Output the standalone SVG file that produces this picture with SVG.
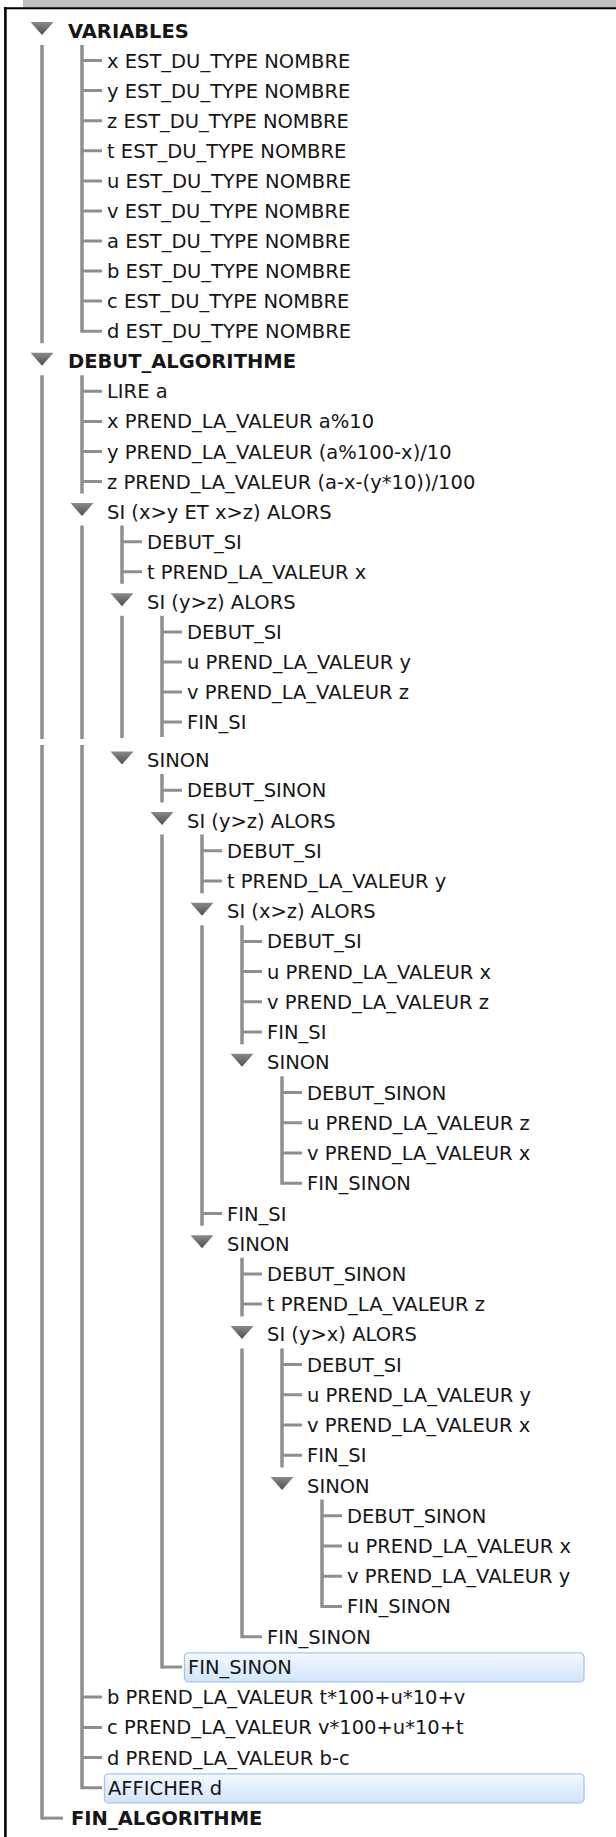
<svg xmlns="http://www.w3.org/2000/svg" width="616" height="1837" viewBox="0 0 616 1837">
<defs>
<linearGradient id="tri" x1="0" y1="0" x2="0" y2="1"><stop offset="0" stop-color="#8a8a8a"/><stop offset="1" stop-color="#4e4e4e"/></linearGradient>
<linearGradient id="sel" x1="0" y1="0" x2="0" y2="1"><stop offset="0" stop-color="#f4f9ff"/><stop offset="1" stop-color="#d2e4fb"/></linearGradient>
<path id="arrow" d="M-11.5 -8.5 L11.5 -8.5 L0 4.5 Z"/>
</defs>
<style>
.t{font-family:"DejaVu Sans",Verdana,sans-serif;font-size:19.5px;fill:#161616}
.b{font-weight:bold}
.ln{stroke:#8e8e8e;stroke-width:3.5;fill:none}
.tk{stroke:#8e8e8e;stroke-width:3;fill:none}
.ar{fill:url(#tri)}
.hl{fill:url(#sel);stroke:#a4c6ee;stroke-width:1.3}
</style>
<rect width="616" height="1837" fill="#ffffff"/>
<g id="frame">
<rect x="23" y="0" width="593" height="7.5" fill="#c0c0c0"/>
<line x1="4" y1="8.3" x2="616" y2="8.3" stroke="#000" stroke-width="2"/>
<line x1="5.4" y1="7.3" x2="5.4" y2="1837" stroke="#000" stroke-width="2.6"/>
</g>
<g id="connectors">
<path class="ln" d="M42 45V343.3M42 375.3V739M42 745V1819.6"/>
<path class="ln" d="M82 45V332.7"/>
<path class="ln" d="M82 375.3V493.6M82 525.6V739M82 745V1789.3"/>
<path class="ln" d="M122 525.6V583.8M122 615.8V738"/>
<path class="ln" d="M162 615.8V737"/>
<path class="ln" d="M162 774V802.5M162 834.5V1668.4"/>
<path class="ln" d="M202 834.5V893.2M202 925.2V1225.7"/>
<path class="ln" d="M242 925.2V1044.3"/>
<path class="ln" d="M282 1076.3V1184.7"/>
<path class="ln" d="M242 1257.7V1316.4M242 1348.4V1638.2"/>
<path class="ln" d="M282 1348.4V1467.5"/>
<path class="ln" d="M322 1499.5V1607.9"/>
<path class="tk" d="M42 1818.1h21"/>
<path class="tk" d="M82 60.6h20M82 90.6h20M82 120.7h20M82 150.8h20M82 180.9h20M82 210.9h20M82 241h20M82 271.1h20M82 301.1h20M82 331.2h20"/>
<path class="tk" d="M82 391.3h20M82 421.4h20M82 451.5h20M82 481.6h20M82 1697.1h20M82 1727.4h20M82 1757.6h20M82 1787.8h20"/>
<path class="tk" d="M122 541.7h20M122 571.8h20"/>
<path class="tk" d="M162 631.9h20M162 662h20M162 692.1h20M162 722.1h20M162 790.2h20M162 1666.9h20"/>
<path class="tk" d="M202 850.7h20M202 880.9h20M202 1213.5h20"/>
<path class="tk" d="M242 941.4h20M242 971.6h20M242 1001.8h20M242 1032.1h20M242 1273.9h20M242 1304.1h20M242 1636.7h20"/>
<path class="tk" d="M282 1092.5h20M282 1122.8h20M282 1153h20M282 1183.2h20M282 1364.6h20M282 1394.8h20M282 1425.1h20M282 1455.3h20"/>
<path class="tk" d="M322 1515.8h20M322 1546h20M322 1576.2h20M322 1606.4h20"/>
</g>
<g id="n1"><use href="#arrow" class="ar" x="42" y="30.5"/><text class="t b" x="68" y="37.5">VARIABLES</text></g>
<g id="n2"><text class="t" x="107" y="67.6">x EST_DU_TYPE NOMBRE</text></g>
<g id="n3"><text class="t" x="107" y="97.6">y EST_DU_TYPE NOMBRE</text></g>
<g id="n4"><text class="t" x="107" y="127.7">z EST_DU_TYPE NOMBRE</text></g>
<g id="n5"><text class="t" x="107" y="157.8">t EST_DU_TYPE NOMBRE</text></g>
<g id="n6"><text class="t" x="107" y="187.9">u EST_DU_TYPE NOMBRE</text></g>
<g id="n7"><text class="t" x="107" y="217.9">v EST_DU_TYPE NOMBRE</text></g>
<g id="n8"><text class="t" x="107" y="248">a EST_DU_TYPE NOMBRE</text></g>
<g id="n9"><text class="t" x="107" y="278.1">b EST_DU_TYPE NOMBRE</text></g>
<g id="n10"><text class="t" x="107" y="308.1">c EST_DU_TYPE NOMBRE</text></g>
<g id="n11"><text class="t" x="107" y="338.2">d EST_DU_TYPE NOMBRE</text></g>
<g id="n12"><use href="#arrow" class="ar" x="42" y="361.3"/><text class="t b" x="68" y="368.3">DEBUT_ALGORITHME</text></g>
<g id="n13"><text class="t" x="107" y="398.3">LIRE a</text></g>
<g id="n14"><text class="t" x="107" y="428.4">x PREND_LA_VALEUR a%10</text></g>
<g id="n15"><text class="t" x="107" y="458.5">y PREND_LA_VALEUR (a%100-x)/10</text></g>
<g id="n16"><text class="t" x="107" y="488.6">z PREND_LA_VALEUR (a-x-(y*10))/100</text></g>
<g id="n17"><use href="#arrow" class="ar" x="82" y="511.6"/><text class="t" x="107" y="518.6">SI (x&gt;y ET x&gt;z) ALORS</text></g>
<g id="n18"><text class="t" x="147" y="548.7">DEBUT_SI</text></g>
<g id="n19"><text class="t" x="147" y="578.8">t PREND_LA_VALEUR x</text></g>
<g id="n20"><use href="#arrow" class="ar" x="122" y="601.8"/><text class="t" x="147" y="608.8">SI (y&gt;z) ALORS</text></g>
<g id="n21"><text class="t" x="187" y="638.9">DEBUT_SI</text></g>
<g id="n22"><text class="t" x="187" y="669">u PREND_LA_VALEUR y</text></g>
<g id="n23"><text class="t" x="187" y="699.1">v PREND_LA_VALEUR z</text></g>
<g id="n24"><text class="t" x="187" y="729.1">FIN_SI</text></g>
<g id="n25"><use href="#arrow" class="ar" x="122" y="760"/><text class="t" x="147" y="767">SINON</text></g>
<g id="n26"><text class="t" x="187" y="797.2">DEBUT_SINON</text></g>
<g id="n27"><use href="#arrow" class="ar" x="162" y="820.5"/><text class="t" x="187" y="827.5">SI (y&gt;z) ALORS</text></g>
<g id="n28"><text class="t" x="227" y="857.7">DEBUT_SI</text></g>
<g id="n29"><text class="t" x="227" y="887.9">t PREND_LA_VALEUR y</text></g>
<g id="n30"><use href="#arrow" class="ar" x="202" y="911.2"/><text class="t" x="227" y="918.2">SI (x&gt;z) ALORS</text></g>
<g id="n31"><text class="t" x="267" y="948.4">DEBUT_SI</text></g>
<g id="n32"><text class="t" x="267" y="978.6">u PREND_LA_VALEUR x</text></g>
<g id="n33"><text class="t" x="267" y="1008.8">v PREND_LA_VALEUR z</text></g>
<g id="n34"><text class="t" x="267" y="1039.1">FIN_SI</text></g>
<g id="n35"><use href="#arrow" class="ar" x="242" y="1062.3"/><text class="t" x="267" y="1069.3">SINON</text></g>
<g id="n36"><text class="t" x="307" y="1099.5">DEBUT_SINON</text></g>
<g id="n37"><text class="t" x="307" y="1129.8">u PREND_LA_VALEUR z</text></g>
<g id="n38"><text class="t" x="307" y="1160">v PREND_LA_VALEUR x</text></g>
<g id="n39"><text class="t" x="307" y="1190.2">FIN_SINON</text></g>
<g id="n40"><text class="t" x="227" y="1220.5">FIN_SI</text></g>
<g id="n41"><use href="#arrow" class="ar" x="202" y="1243.7"/><text class="t" x="227" y="1250.7">SINON</text></g>
<g id="n42"><text class="t" x="267" y="1280.9">DEBUT_SINON</text></g>
<g id="n43"><text class="t" x="267" y="1311.1">t PREND_LA_VALEUR z</text></g>
<g id="n44"><use href="#arrow" class="ar" x="242" y="1334.4"/><text class="t" x="267" y="1341.4">SI (y&gt;x) ALORS</text></g>
<g id="n45"><text class="t" x="307" y="1371.6">DEBUT_SI</text></g>
<g id="n46"><text class="t" x="307" y="1401.8">u PREND_LA_VALEUR y</text></g>
<g id="n47"><text class="t" x="307" y="1432.1">v PREND_LA_VALEUR x</text></g>
<g id="n48"><text class="t" x="307" y="1462.3">FIN_SI</text></g>
<g id="n49"><use href="#arrow" class="ar" x="282" y="1485.5"/><text class="t" x="307" y="1492.5">SINON</text></g>
<g id="n50"><text class="t" x="347" y="1522.8">DEBUT_SINON</text></g>
<g id="n51"><text class="t" x="347" y="1553">u PREND_LA_VALEUR x</text></g>
<g id="n52"><text class="t" x="347" y="1583.2">v PREND_LA_VALEUR y</text></g>
<g id="n53"><text class="t" x="347" y="1613.4">FIN_SINON</text></g>
<g id="n54"><text class="t" x="267" y="1643.7">FIN_SINON</text></g>
<g id="n55"><rect class="hl" x="184.5" y="1652.9" width="399.5" height="29" rx="4"/><text class="t" x="188" y="1673.9">FIN_SINON</text></g>
<g id="n56"><text class="t" x="107" y="1704.1">b PREND_LA_VALEUR t*100+u*10+v</text></g>
<g id="n57"><text class="t" x="107" y="1734.4">c PREND_LA_VALEUR v*100+u*10+t</text></g>
<g id="n58"><text class="t" x="107" y="1764.6">d PREND_LA_VALEUR b-c</text></g>
<g id="n59"><rect class="hl" x="104.5" y="1773.8" width="479.5" height="29" rx="4"/><text class="t" x="108" y="1794.8">AFFICHER d</text></g>
<g id="n60"><text class="t b" x="71" y="1825.1">FIN_ALGORITHME</text></g>
</svg>
